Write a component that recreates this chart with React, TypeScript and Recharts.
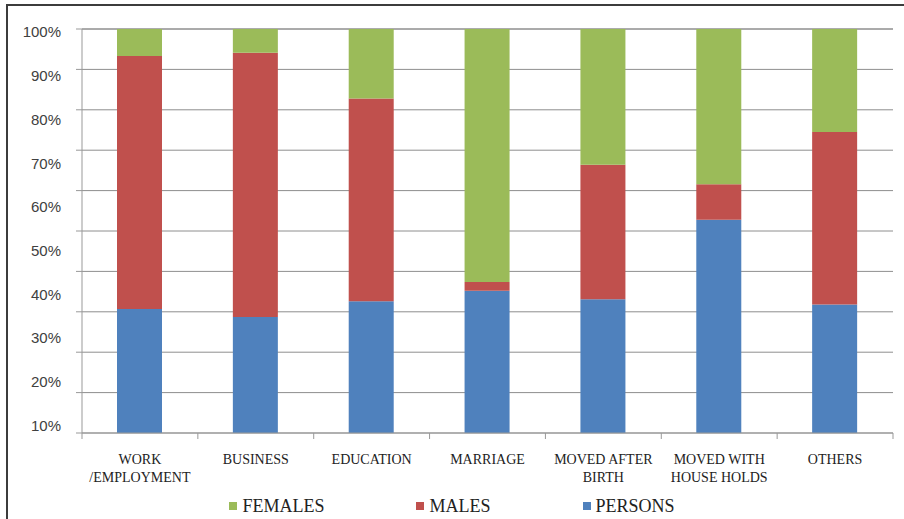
import React from 'react';
import { BarChart, Bar, XAxis, YAxis, CartesianGrid, Legend } from 'recharts';

const categories = [
  'WORK\n/EMPLOYMENT',
  'BUSINESS',
  'EDUCATION',
  'MARRIAGE',
  'MOVED AFTER\nBIRTH',
  'MOVED WITH\nHOUSE HOLDS',
  'OTHERS',
];
const persons = [30.7, 28.7, 32.6, 35.2, 33.1, 52.8, 31.8];
const males = [62.6, 65.4, 50.2, 2.2, 33.3, 8.8, 42.7];
const females = [6.7, 5.9, 17.2, 62.6, 33.6, 38.4, 25.5];
const gridTicks = [0, 10, 20, 30, 40, 50, 60, 70, 80, 90, 100];
const labelTicks = [10, 20, 30, 40, 50, 60, 70, 80, 90, 100];
const legendOrder = ['FEMALES', 'MALES', 'PERSONS'];

const data = categories.map((c, i) => ({
  category: c,
  PERSONS: persons[i],
  MALES: males[i],
  FEMALES: females[i],
}));

const SERIF = '"Liberation Serif", "Times New Roman", serif';

const EmptyTick = () => <g />;

const CategoryTick = (props: any) => {
  const { x, y, payload, index } = props;
  const lines = String(payload.value).split('\n');
  const half = payload.offset ?? 0;
  const isLast = index === categories.length - 1;
  return (
    <g>
      <line x1={x - half} x2={x - half} y1={y} y2={y + 6} stroke="#999" />
      {isLast && <line x1={x + half} x2={x + half} y1={y} y2={y + 6} stroke="#999" />}
      <text x={x} y={y + 31} textAnchor="middle" fontFamily={SERIF} fontSize={14} fill="#222">
        {lines.map((l, i) => (
          <tspan key={i} x={x} dy={i === 0 ? 0 : 17.5}>
            {l}
          </tspan>
        ))}
      </text>
    </g>
  );
};

const LegendContent = (props: any) => {
  const payload = props.payload || [];
  const items = legendOrder
    .map((name) => payload.find((p: any) => p.value === name || p.dataKey === name))
    .filter(Boolean);
  return (
    <div
      style={{
        display: 'flex',
        justifyContent: 'center',
        alignItems: 'center',
        height: 26,
        width: 904,
        fontFamily: SERIF,
        fontSize: 18,
        color: '#222',
      }}
    >
      {items.map((it: any, i: number) => (
        <div key={it.value} style={{ display: 'flex', alignItems: 'center', marginLeft: i ? 92 : 0 }}>
          <span style={{ display: 'inline-block', width: 8, height: 8, background: it.color, marginRight: 5 }} />
          <span>{it.value}</span>
        </div>
      ))}
    </div>
  );
};

export default function App() {
  return (
    <div style={{ position: 'absolute', left: 0, top: 0, width: 904, height: 519, background: '#fff', overflow: 'hidden' }}>
      <div style={{ position: 'absolute', left: 6, top: 4, right: 0, height: 2, background: '#3c3c3c' }} />
      <div style={{ position: 'absolute', left: 6, top: 4, bottom: 0, width: 2, background: '#3c3c3c' }} />
      <div style={{ position: 'absolute', left: 0, top: 0 }}>
        <BarChart width={904} height={519} data={data} margin={{ top: 29, right: 11, bottom: 0, left: 0 }}>
          <CartesianGrid yAxisId="grid" vertical={false} stroke="#8e8e8e" />
          <YAxis
            yAxisId="grid"
            type="number"
            domain={[0, 100]}
            ticks={gridTicks}
            width={8}
            tick={EmptyTick}
            tickSize={6}
            tickLine={{ stroke: '#999' }}
            axisLine={{ stroke: '#999' }}
            interval={0}
          />
          <YAxis
            yAxisId="lab"
            type="number"
            domain={[8.26, 100.71]}
            allowDataOverflow
            ticks={labelTicks}
            width={74}
            axisLine={false}
            tickLine={false}
            tickSize={0}
            tickMargin={13}
            interval={0}
            tickFormatter={(v: number) => `${v}%`}
            tick={{ fontFamily: '"Liberation Sans", Arial, sans-serif', fontSize: 15, fill: '#404040' }}
          />
          <XAxis
            dataKey="category"
            height={60}
            interval={0}
            tickLine={false}
            tickSize={0}
            tickMargin={0}
            axisLine={{ stroke: '#999' }}
            tick={<CategoryTick />}
          />
          <Legend verticalAlign="bottom" height={26} width={904} wrapperStyle={{ left: 0 }} content={<LegendContent />} />
          <Bar yAxisId="grid" dataKey="PERSONS" stackId="s" fill="#4F81BD" barSize={45} isAnimationActive={false} />
          <Bar yAxisId="grid" dataKey="MALES" stackId="s" fill="#C0504D" barSize={45} isAnimationActive={false} />
          <Bar yAxisId="grid" dataKey="FEMALES" stackId="s" fill="#9BBB59" barSize={45} isAnimationActive={false} />
        </BarChart>
      </div>
    </div>
  );
}
